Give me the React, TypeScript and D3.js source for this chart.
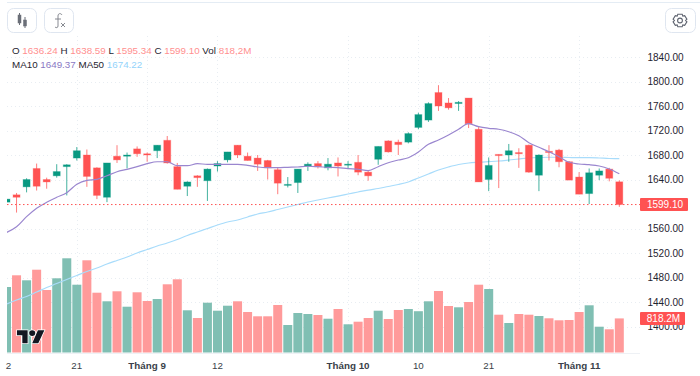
import React, { useMemo } from "react";
import * as d3 from "d3";

const opens = [1603,1615,1628,1658,1640,1646,1661,1675,1680,1659,1611,1678,1678,1690,1682,1687,1704,1661,1629,1646,1638,1662,1672,1696,1678,1675,1671,1656,1631,1635,1662,1666,1659,1667,1664,1668,1652,1673,1703,1701,1701,1725,1737,1782,1765,1764,1773,1722,1640,1681,1680,1684,1696,1647,1686,1688,1669,1644,1617,1647,1657,1636.24];
const highs = [1609,1618,1642,1666,1643,1665,1665,1693,1689,1660,1667,1696,1684,1694,1684,1696,1711,1667,1637,1647,1658,1670,1685,1696,1684,1680,1672,1660,1644,1657,1668,1670,1675,1676,1670,1680,1654,1694,1704,1705,1717,1749,1766,1794,1773,1768,1773,1726,1676,1681,1698,1691,1697,1681,1696,1690,1670,1652,1658,1658,1659,1638.59];
const lows = [1601,1586,1619,1622,1625,1643,1614,1671,1628,1608,1603,1667,1658,1677,1669,1675,1666,1624,1613,1628,1605,1653,1668,1675,1671,1654,1640,1616,1627,1618,1654,1658,1655,1645,1657,1647,1638,1664,1684,1680,1699,1722,1734,1752,1754,1752,1724,1636,1621,1626,1669,1659,1651,1621,1671,1660,1639,1616,1600,1639,1637,1595.34];
const closes = [1608,1611,1640,1629,1636,1653,1664,1687,1645,1614,1667,1672,1680,1682,1680,1696,1667,1624,1636,1643,1657,1666,1685,1680,1671,1665,1659,1634,1632,1657,1665,1661,1665,1662,1665,1652,1646,1694,1685,1697,1715,1746,1764,1760,1757,1766,1731,1636,1663,1679,1687,1682,1652,1680,1684,1669,1639,1616,1651,1654,1642,1599.1];
const volumes = [1572,1853,1733,1987,1500,1781,2261,1627,2213,1435,1229,1469,1099,1445,1236,1284,1637,1757,1013,828,1195,1003,1123,1229,972,869,869,1140,660,948,924,900,811,1044,677,739,828,1003,804,1020,1044,991,1229,1476,1116,1085,1212,1627,1524,907,708,924,907,876,821,773,780,972,1133,619,557,818.2];
const ma10 = [1553.5,1562.9,1579.3,1593,1602.8,1610.9,1618.5,1632.2,1638.7,1640.3,1646.2,1652.7,1656.6,1660.9,1665.8,1669,1669,1662.5,1662.5,1665.8,1664.8,1664.8,1664.8,1664.8,1663.2,1660.4,1659.3,1659.3,1659.9,1660.4,1661.6,1660.9,1659.9,1659.3,1657.6,1656.7,1654.4,1660.9,1667.4,1671.8,1675.6,1684.9,1697.5,1704.5,1712.7,1722,1731.1,1726.2,1723.6,1722,1718,1711.5,1700.1,1692.6,1685.4,1677.2,1668.1,1665.3,1664.2,1662,1657.1,1649.37];
const ma50 = [1436.7,1443.3,1449,1456.3,1463.7,1470.2,1476.8,1483.3,1489.8,1495.5,1502,1507.8,1513.5,1520,1525.7,1531.4,1536.3,1542,1548.6,1554.3,1560,1565.7,1570.6,1573.9,1578.8,1583.7,1586.9,1591,1595.1,1599.2,1603.3,1606.5,1609.8,1613,1616.3,1619.6,1622.8,1625.3,1628.6,1631.8,1635.9,1642.5,1649,1655.5,1660.4,1664.5,1666.9,1668.1,1669.1,1670.2,1671.8,1673.5,1675.1,1675.9,1676.3,1676.3,1675.9,1675.6,1675.6,1675.1,1674.3,1674.22];

const priceTicks = [1840,1800,1760,1720,1680,1640,1600,1560,1520,1480,1440,1400];
const hiddenPriceLabels = [1600];
const timeTicks: [number, string, boolean][] = [
  [0, "2", false],
  [7, "21", false],
  [14, "Tháng 9", true],
  [21, "12", false],
  [34, "Tháng 10", true],
  [41, "10", false],
  [48, "21", false],
  [57, "Tháng 11", true],
];
const headerRow1: [string, string][] = [
  ["O ", "1636.24"],
  [" H ", "1638.59"],
  [" L ", "1595.34"],
  [" C ", "1599.10"],
  [" Vol ", "818,2M"],
];
const RED = "#ff5252";
const GREEN = "#089981";
const VOL_RED = "#ff9a9a";
const VOL_GREEN = "#80bfb3";
const FONT = "'Liberation Sans', Arial, sans-serif";
const TEXT = "#1f2430";

export default function App() {
  const idx = opens.map((_, i) => i);
  const x = useMemo(() => d3.scaleLinear().domain([0, 61]).range([6.5, 619.3]), []);
  const y = useMemo(() => d3.scaleLinear().domain([1840, 1400]).range([57, 326.5]), []);
  const v = useMemo(() => d3.scaleLinear().domain([0, 2400]).range([352.5, 252.5]), []);
  const line = (arr: number[]) =>
    d3.line<number>().x((_, i) => x(i)).y((d) => y(d)).curve(d3.curveMonotoneX)(arr) || "";
  const lastY = y(closes[closes.length - 1]);
  const lastVolY = v(volumes[volumes.length - 1]);

  return (
    <svg
      width={700}
      height={376}
      style={{ position: "absolute", left: 0, top: 0, background: "#fff" }}
      fontFamily={FONT}
    >
      <defs>
        <clipPath id="plot">
          <rect x={7} y={36} width={633} height={318} />
        </clipPath>
      </defs>

      <line x1={7} x2={700} y1={2.5} y2={2.5} stroke="#e4ecf4" strokeWidth={1} />

      {/* toolbar */}
      <rect x={7.5} y={8.5} width={29} height={24} rx={6} fill="#fff" stroke="#dfe6f0" />
      <g fill="#6b6f78" stroke="#6b6f78">
        <line x1={19.5} x2={19.5} y1={13} y2={25} strokeWidth={1} />
        <rect x={18} y={15} width={3} height={8} strokeWidth={0.5} />
        <line x1={25} x2={25} y1={17} y2={28} strokeWidth={1} />
        <rect x={23.5} y={20} width={3} height={6} strokeWidth={0.5} />
      </g>
      <rect x={44.5} y={8.5} width={29} height={24} rx={6} fill="#fff" stroke="#dfe6f0" />
      <path
        d="M62 15c-1-2-4-2-4 1v10c0 2-2 2-3 1M55 19h6"
        fill="none"
        stroke="#7a7e86"
        strokeWidth={0.9}
      />
      <path d="M61 23l4 4M65 23l-4 4" fill="none" stroke="#7a7e86" strokeWidth={0.9} />
      <rect x={665.5} y={8.5} width={30} height={24} rx={6} fill="#fff" stroke="#dfe6f0" />
      <g fill="none" stroke="#5f6470" strokeWidth={1.1}>
        <circle cx={680} cy={20.5} r={2.4} />
        <path d="M677.8 14.2h4.4l.6 1.9 1.9-.5 2.2 3.6-1.3 1.3 1.3 1.3-2.2 3.6-1.9-.5-.6 1.9h-4.4l-.6-1.9-1.9.5-2.2-3.6 1.3-1.3-1.3-1.3 2.2-3.6 1.9.5z" />
      </g>

      {/* grid */}
      <g stroke="#e8edf2" strokeWidth={1} strokeDasharray="1 3">
        {priceTicks.map((t) => (
          <line key={t} x1={7} x2={640} y1={Math.round(y(t)) + 0.5} y2={Math.round(y(t)) + 0.5} />
        ))}
        {timeTicks.slice(1).map(([i]) => (
          <line key={i} x1={Math.round(x(i)) + 0.5} x2={Math.round(x(i)) + 0.5} y1={36} y2={352} />
        ))}
      </g>
      <line x1={7} x2={640} y1={353.5} y2={353.5} stroke="#eef1f5" />

      <g clipPath="url(#plot)">
        {/* volume */}
        {idx.map((i) => (
          <rect
            key={i}
            x={x(i) - 4.5}
            width={9}
            y={v(volumes[i])}
            height={352.5 - v(volumes[i])}
            fill={closes[i] >= opens[i] ? VOL_GREEN : VOL_RED}
          />
        ))}
        {/* moving average */}
        <path d={line(ma50)} fill="none" stroke="#a8dcfb" strokeWidth={1.2} />
        {/* candles */}
        {idx.map((i) => {
          const up = closes[i] >= opens[i];
          const c = up ? GREEN : RED;
          const top = y(Math.max(opens[i], closes[i]));
          const bot = y(Math.min(opens[i], closes[i]));
          return (
            <g key={i}>
              <line x1={x(i)} x2={x(i)} y1={y(highs[i])} y2={y(lows[i])} stroke={c} strokeWidth={1} opacity={0.75} />
              <rect x={x(i) - 3.5} width={7} y={top} height={Math.max(bot - top, 1)} fill={c} stroke={c} strokeOpacity={0.3} strokeWidth={1} />
            </g>
          );
        })}
        <path d={line(ma10)} fill="none" stroke="#9a86cf" strokeWidth={1.2} />
        <line x1={7} x2={640} y1={lastY} y2={lastY} stroke={RED} strokeWidth={1} strokeDasharray="1.5 2.5" />
      </g>

      {/* logo */}
      <g transform="translate(17 329.5) scale(0.76 0.72) translate(0 -6)" fill="#131722" stroke="#fff" strokeWidth={2} paintOrder="stroke">
        <path d="M14 25H7V14H0V7h14v18zM28 25h-8l7.5-18H36L28 25z" />
        <circle cx={20} cy={11} r={4} />
      </g>

      {/* axes */}
      <g fontSize={10} fill={TEXT}>
        {priceTicks
          .filter((t) => !hiddenPriceLabels.includes(t))
          .map((t) => (
            <text key={t} x={647.5} y={y(t) + 3.6}>
              {t.toFixed(2)}
            </text>
          ))}
        {timeTicks.map(([i, label, bold]) => (
          <text
            key={label + i}
            x={i === 0 ? 8.5 : x(i)}
            y={368.5}
            textAnchor="middle"
            fontSize={9.8}
            fontWeight={bold ? 700 : 400}
            fill="#3a3f4a"
          >
            {label}
          </text>
        ))}
      </g>
      <rect x={640} y={lastY - 6.5} width={48} height={13} rx={1} fill={RED} />
      <text x={665} y={lastY + 3.6} textAnchor="middle" fontSize={10} fill="#fff">
        {closes[closes.length - 1].toFixed(2)}
      </text>
      <rect x={640} y={lastVolY - 6.5} width={45} height={13} rx={1} fill={RED} />
      <text x={663.5} y={lastVolY + 3.6} textAnchor="middle" fontSize={10} fill="#fff">
        818.2M
      </text>

      {/* legend */}
      <text x={12} y={53.5} fontSize={9.8} fill={TEXT}>
        {headerRow1.map(([k, val]) => (
          <React.Fragment key={k}>
            <tspan>{k}</tspan>
            <tspan fill="#ff8f8f">{val}</tspan>
          </React.Fragment>
        ))}
      </text>
      <text x={12} y={68} fontSize={9.8} fill={TEXT}>
        <tspan>MA10 </tspan>
        <tspan fill="#8a78c4">1649.37</tspan>
        <tspan> MA50 </tspan>
        <tspan fill="#93d3fb">1674.22</tspan>
      </text>
    </svg>
  );
}
